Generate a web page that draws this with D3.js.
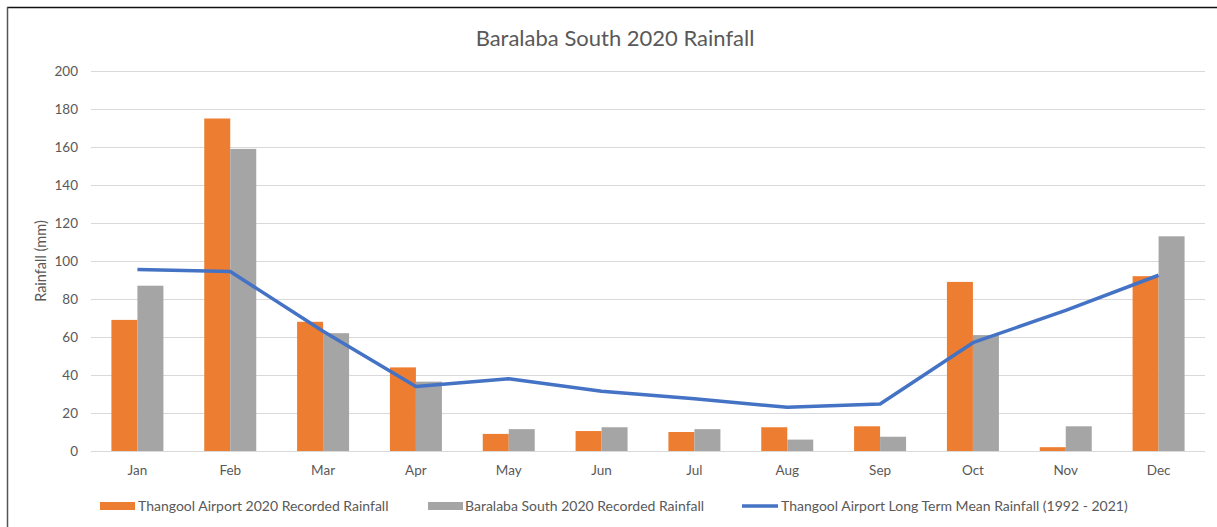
<!DOCTYPE html>
<html><head><meta charset="utf-8">
<script src="https://cdn.jsdelivr.net/npm/d3@7"></script>
<style>body{margin:0;background:#fff}svg{display:block}text{font-family:Lato,"Open Sans",sans-serif}</style>
</head><body>
<script>
const months = ["Jan","Feb","Mar","Apr","May","Jun","Jul","Aug","Sep","Oct","Nov","Dec"];
const thangool2020 = [69,175,68,44,9,10.5,10,12.5,13,89,2,92];
const baralaba2020 = [87,159,62,36.5,11.5,12.5,11.5,6,7.5,61,13,113];
const longTermMean = [95.5,94.5,63,34,38,31.5,27.5,23,24.7,57,74,92.5];
const yTicks = [0,20,40,60,80,100,120,140,160,180,200];
const seriesNames = ["Thangool Airport 2020 Recorded Rainfall","Baralaba South 2020 Recorded Rainfall","Thangool Airport Long Term Mean Rainfall (1992 - 2021)"];
const title = "Baralaba South 2020 Rainfall";
const yLabel = "Rainfall (mm)";

const W=1217,H=527;
const svg=d3.select("body").append("svg").attr("width",W).attr("height",H);
svg.append("rect").attr("width",W).attr("height",H).attr("fill","#fff");
// border
svg.append("line").attr("x1",7).attr("x2",W).attr("y1",7.5).attr("y2",7.5).attr("stroke","#111").attr("stroke-width",1.5);
svg.append("line").attr("x1",7.5).attr("x2",7.5).attr("y1",7).attr("y2",H).attr("stroke","#555").attr("stroke-width",1.5);

const m={l:91,r:1205,t:71,b:451};
const x=d3.scaleBand().domain(months).range([m.l,m.r]).paddingInner(0.44).paddingOuter(0.22);
const y=d3.scaleLinear().domain([0,200]).range([m.b,m.t]);
const xs=d3.scaleBand().domain([0,1]).range([0,x.bandwidth()]);

const grid=svg.append("g").attr("transform",`translate(${m.l},0)`)
 .call(d3.axisLeft(y).tickValues(yTicks).tickSize(-(m.r-m.l)).tickFormat(d3.format("d")).tickPadding(13));
grid.select(".domain").remove();
grid.selectAll(".tick line").attr("stroke","#d9d9d9").attr("stroke-width",1);
grid.selectAll(".tick text").attr("fill","#595959").style("font-size","13.5px").attr("text-anchor","end").attr("x",-13);

const colors=["#ED7D31","#A5A5A5"];
[thangool2020,baralaba2020].forEach((s,i)=>{
  svg.append("g").selectAll("rect").data(s).join("rect")
   .attr("x",(d,j)=>x(months[j])+xs(i)).attr("width",xs.bandwidth())
   .attr("y",d=>y(d)).attr("height",d=>y(0)-y(d)).attr("fill",colors[i]);
});

const xa=svg.append("g").attr("transform",`translate(0,${m.b})`).call(d3.axisBottom(x).tickSize(0).tickPadding(14));
xa.select(".domain").remove();
xa.selectAll("text").attr("fill","#595959").style("font-size","13.5px");

const line=d3.line().x((d,i)=>x(months[i])+x.bandwidth()/2).y(d=>y(d));
svg.append("path").datum(longTermMean).attr("d",line).attr("fill","none").attr("stroke","#4472C4").attr("stroke-width",3.5).attr("stroke-linejoin","round");

svg.append("text").attr("x",615).attr("y",46).attr("text-anchor","middle").attr("fill","#595959").style("font-size","22px").text(title);
svg.append("text").attr("transform","translate(46,261) rotate(-90)").attr("text-anchor","middle").attr("fill","#595959").style("font-size","14.5px").text(yLabel);

// legend
const lg=[{x:100,t:138,type:"bar",c:colors[0]},{x:428,t:465,type:"bar",c:colors[1]},{x:742,t:781,type:"line",c:"#4472C4"}];
lg.forEach((l,i)=>{
  if(l.type==="bar") svg.append("rect").attr("x",l.x).attr("y",502).attr("width",35).attr("height",8).attr("fill",l.c);
  else svg.append("line").attr("x1",l.x).attr("x2",l.x+36).attr("y1",506).attr("y2",506).attr("stroke",l.c).attr("stroke-width",3.5);
  svg.append("text").attr("x",l.t).attr("y",511).attr("fill","#595959").style("font-size","14px").text(seriesNames[i]);
});
</script>
</body></html>
